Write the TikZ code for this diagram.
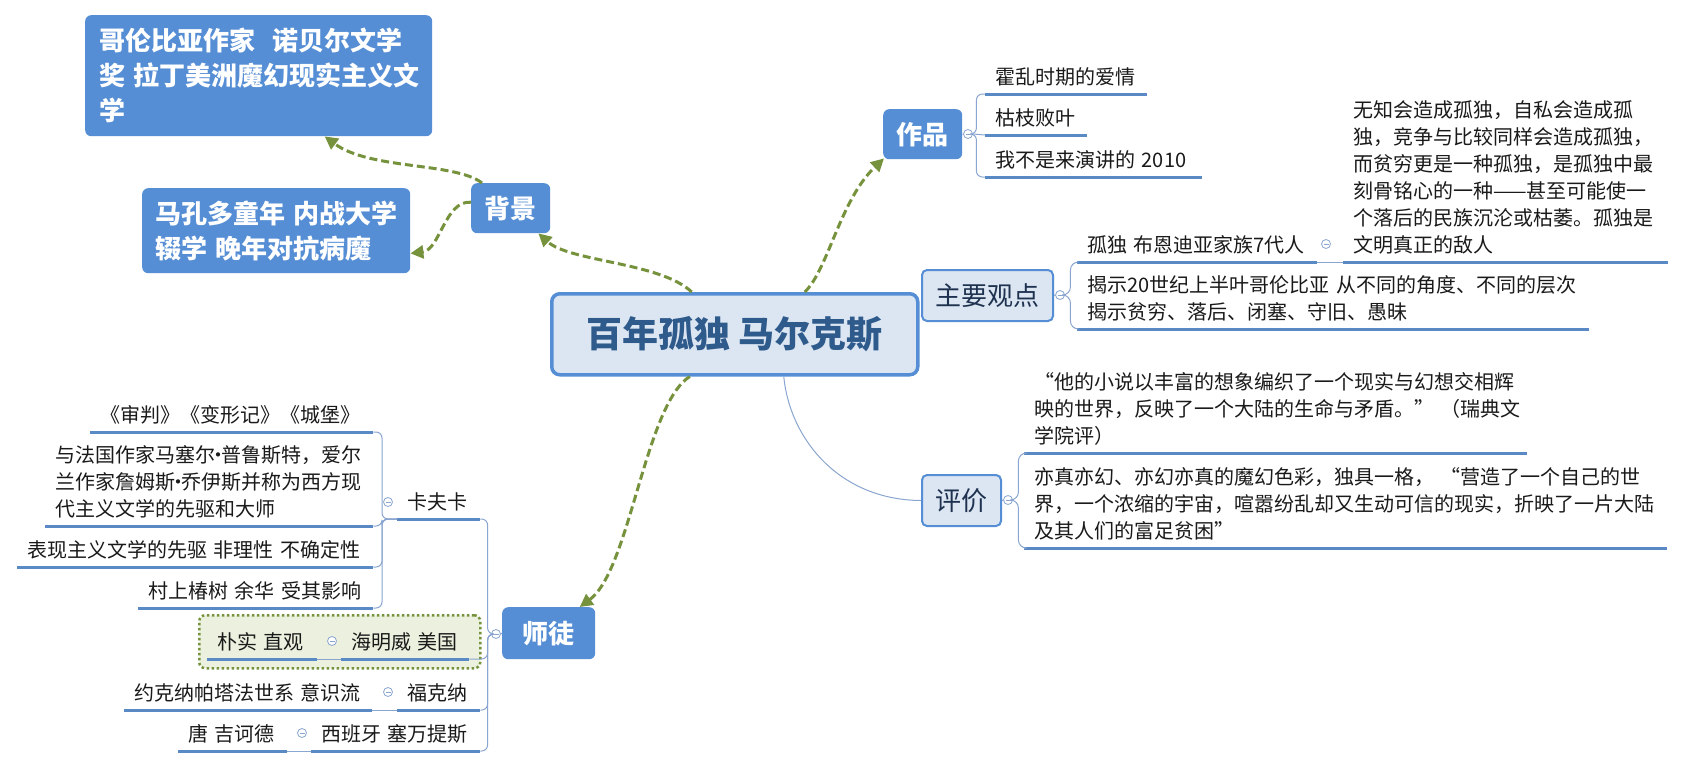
\documentclass[tikz,border=0pt]{standalone}
\usepackage{fontspec}
\setmainfont{Noto Sans CJK SC}
\usetikzlibrary{arrows.meta}

\definecolor{boxblue}{HTML}{558ED5}
\definecolor{paleblue}{HTML}{DCE6F2}
\definecolor{titleblue}{HTML}{2E5A8C}
\definecolor{navy}{HTML}{1E3250}
\definecolor{ulblue}{HTML}{5A8AC6}
\definecolor{thinblue}{HTML}{8AA6D0}
\definecolor{olive}{HTML}{76923C}
\definecolor{palegreen}{HTML}{EBF1DE}
\definecolor{ink}{HTML}{1A1A1A}

\newcommand{\leaffont}{\fontsize{20}{27}\selectfont}
\newcommand{\boxfont}{\fontsize{26}{35}\selectfont\bfseries}
\newcommand{\middot}{\makebox[6pt]{·}}

\tikzset{
  bluebox/.style={fill=boxblue, rounded corners=6pt, text=white, font=\boxfont, anchor=north west, inner sep=0pt},
  palebox/.style={fill=paleblue, draw=boxblue, line width=2pt, rounded corners=5pt, text=navy, font=\fontsize{26}{30}\selectfont, anchor=north west, inner sep=0pt},
  lpad/.style={execute at begin node={\leftskip=#1}},
  leaf/.style={anchor=south west, inner xsep=0pt, inner ysep=1.3pt, align=left, text=ink, font=\leaffont, lpad=10pt, execute at end node=\strut,
    append after command={(\tikzlastnode.south west) edge[uline] (\tikzlastnode.south east)}},
  uline/.style={draw=ulblue, line width=3pt},
  branch/.style={draw=thinblue, line width=1pt, rounded corners=6pt},
  fold/.style={circle, draw=thinblue, fill=white, line width=0.8pt, minimum size=9pt, inner sep=0pt,
    path picture={\draw[thinblue] ([xshift=-2.5pt]path picture bounding box.center) -- ([xshift=2.5pt]path picture bounding box.center);}},
  tolink/.style={draw=olive, line width=3pt, dash pattern=on 8pt off 4pt, -{Triangle[length=13pt,width=13pt]}},
}

\begin{document}
\begin{tikzpicture}[x=1pt,y=-1pt]
  \fill[white] (0,0) rectangle (1686,768);
  \useasboundingbox (0,0) rectangle (1686,768);

  \node (bainian) [draw=boxblue, fill=paleblue, line width=3.5pt, rounded corners=8pt, minimum width=366pt, minimum height=81pt, anchor=north west, inner sep=0pt, text=titleblue, font=\fontsize{36}{40}\selectfont\bfseries] at (550,292) {百年孤独 马尔克斯};

  \node (jianjie) [bluebox, text width=319pt, inner xsep=14pt, minimum height=121pt, align=left] at (85,15) {哥伦比亚作家~~诺贝尔文学\\奖~拉丁美洲魔幻现实主义文\\学};
  \node (tongnian) [bluebox, text width=242pt, inner xsep=13pt, minimum height=85pt, align=left] at (142,188) {马孔多童年~内战大学\\辍学~晚年对抗病魔};
  \node (beijing) [bluebox, minimum width=79pt, minimum height=50pt] at (471,183) {背景};
  \node (zuopin) [bluebox, minimum width=79pt, minimum height=50pt] at (883,109) {作品};
  \node (shitu) [bluebox, minimum width=93pt, minimum height=52pt] at (502,607) {师徒};
  \node (guandian) [palebox, minimum width=131pt, minimum height=51pt] at (921,269) {主要观点};
  \node (pingjia) [palebox, minimum width=79pt, minimum height=51pt] at (921,474) {评价};

  \node (mingwei) [draw=olive, fill=palegreen, line width=2.5pt, dash pattern=on 2.5pt off 2.5pt, rounded corners=6pt, minimum width=281pt, minimum height=53pt, anchor=north west, inner sep=0pt] at (198,614) {};

  \node (zpfold) [fold] at (968,134) {};
  \node (gdfold) [fold] at (1060,295) {};
  \node (gufold) [fold] at (1326,244) {};
  \node (pjfold) [fold] at (1008,500) {};
  \node (stfold) [fold] at (496,634) {};
  \node (kffold) [fold] at (388,502) {};
  \node (psfold) [fold] at (332,641) {};
  \node (fkfold) [fold] at (388,692) {};
  \node (tjfold) [fold] at (302,733) {};

  \node (huoluan) [leaf, text width=162pt] at (985,94) {霍乱时期的爱情};
  \node (kuzhi) [leaf, text width=102pt] at (985,135) {枯枝败叶};
  \node (yanjiang) [leaf, text width=217pt] at (985,177) {我不是来演讲的~2010};
  \node (gudu) [leaf, text width=240pt] at (1077,262) {孤独~布恩迪亚家族7代人};
  \node (wuzhi) [leaf, text width=325pt] at (1343,262) {无知会造成孤独，自私会造成孤\\独，竞争与比较同样会造成孤独，\\而贫穷更是一种孤独，是孤独中最\\刻骨铭心的一种——甚至可能使一\\个落后的民族沉沦或枯萎。孤独是\\文明真正的敌人};
  \node (jieshi) [leaf, text width=512pt] at (1077,329) {揭示20世纪上半叶哥伦比亚~从不同的角度、不同的层次\\揭示贫穷、落后、闭塞、守旧、愚昧};
  \node (ruidian) [leaf, text width=503pt] at (1024,453) {“他的小说以丰富的想象编织了一个现实与幻想交相辉\\映的世界，反映了一个大陆的生命与矛盾。”~（瑞典文\\学院评）};
  \node (yizhen) [leaf, text width=643pt] at (1024,548) {亦真亦幻、亦幻亦真的魔幻色彩，独具一格，~“营造了一个自己的世\\界，一个浓缩的宇宙，喧嚣纷乱却又生动可信的现实，折映了一片大陆\\及其人们的富足贫困”};

  \node (shenpan) [leaf, text width=283pt] at (90,432) {《审判》《变形记》《城堡》};
  \node (yufaguo) [leaf, text width=328pt] at (45,526) {与法国作家马塞尔\middot 普鲁斯特，爱尔\\兰作家詹姆斯\middot 乔伊斯并称为西方现\\代主义文学的先驱和大师};
  \node (biaoxian) [leaf, text width=356pt] at (17,567) {表现主义文学的先驱~非理性~不确定性};
  \node (cunshang) [leaf, text width=235pt] at (138,608) {村上椿树~余华~受其影响};
  \node (kafka) [leaf, text width=83pt] at (397,519) {卡夫卡};
  \node (pushi) [leaf, text width=110pt] at (207,659) {朴实~直观};
  \node (haimingwei) [leaf, text width=128pt] at (341,659) {海明威~美国};
  \node (yuekena) [leaf, text width=248pt] at (124,710) {约克纳帕塔法世系~意识流};
  \node (fukena) [leaf, text width=83pt] at (397,710) {福克纳};
  \node (tangji) [leaf, text width=109pt] at (178,751) {唐~吉诃德};
  \node (xibanya) [leaf, text width=169pt] at (311,751) {西班牙~塞万提斯};

  % 作品
  \draw[branch] (zuopin.east) -- (zpfold.west);
  \draw[branch] (zpfold.east) -- ++(3.5,0) |- (huoluan.south west);
  \draw[branch] (zpfold.east) -- (kuzhi.south west);
  \draw[branch] (zpfold.east) -- ++(3.5,0) |- (yanjiang.south west);

  % 主要观点
  \draw[branch] (guandian.east) -- (gdfold.west);
  \draw[branch, rounded corners=8pt] (gdfold.east) -- ++(5.5,0) |- (gudu.south west);
  \draw[branch, rounded corners=8pt] (gdfold.east) -- ++(5.5,0) |- (jieshi.south west);
  \draw[branch] (gudu.south east) -- (wuzhi.south west);

  % 评价
  \draw[branch] ([xshift=49pt]bainian.south) .. controls (790,440) and (840,500) .. (pingjia.west);
  \draw[branch] (pingjia.east) -- (pjfold.west);
  \draw[branch, rounded corners=8pt] (pjfold.east) -- ++(5.5,0) |- (ruidian.south west);
  \draw[branch, rounded corners=8pt] (pjfold.east) -- ++(5.5,0) |- (yizhen.south west);

  % 师徒
  \draw[branch] (shitu.west) -- (stfold.east);
  \draw[branch] (stfold.west) -- ++(-3.5,0) |- (kafka.south east);
  \draw[branch] (stfold.west) -- ++(-3.5,0) |- (haimingwei.south east);
  \draw[branch] (stfold.west) -- ++(-3.5,0) |- (fukena.south east);
  \draw[branch] (stfold.west) -- ++(-3.5,0) |- (xibanya.south east);
  \draw[branch] (kafka.south west) -- ++(-15,0) |- (shenpan.south east);
  \draw[branch] (kafka.south west) -- ++(-15,0) |- (yufaguo.south east);
  \draw[branch] (kafka.south west) -- ++(-15,0) |- (biaoxian.south east);
  \draw[branch] (kafka.south west) -- ++(-15,0) |- (cunshang.south east);
  \draw[branch] (haimingwei.south west) -- (pushi.south east);
  \draw[branch] (fukena.south west) -- (yuekena.south east);
  \draw[branch] (xibanya.south west) -- (tangji.south east);

  \draw[tolink] ([xshift=-43pt]bainian.north) .. controls (660,262) and (570,262) .. ([xshift=-12pt]beijing.south east);
  \draw[tolink] ([xshift=70pt]bainian.north) .. controls (828,270) and (840,200) .. ([xshift=1pt,yshift=1pt]zuopin.south west);
  \draw[tolink] ([xshift=-45pt]bainian.south) .. controls (645,405) and (630,570) .. ([xshift=31pt]shitu.north);
  \draw[tolink] ([xshift=11pt]beijing.north west) .. controls (455,162) and (370,170) .. ([xshift=66pt]jianjie.south);
  \draw[tolink] ([yshift=6pt]beijing.west) .. controls (445,200) and (440,250) .. ([yshift=20pt]tongnian.south east);
\end{tikzpicture}
\end{document}
